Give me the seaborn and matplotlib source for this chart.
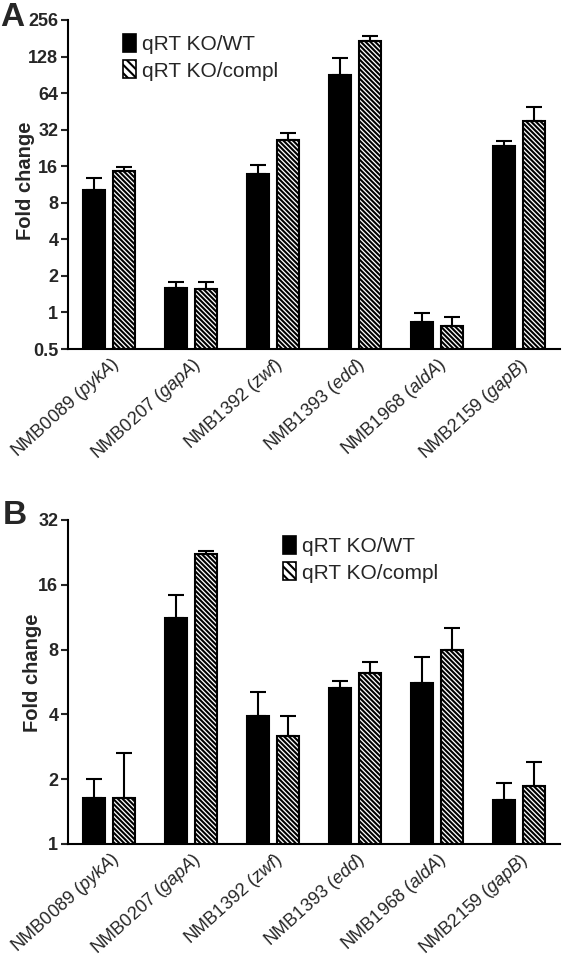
import numpy as np
import pandas as pd
import matplotlib
matplotlib.use("Agg")
import matplotlib.pyplot as plt
import matplotlib.patches as mpatches
import matplotlib.transforms as mtransforms
import seaborn as sns

# genes on the x axis
genes = ["NMB0089", "NMB0207", "NMB1392", "NMB1393", "NMB1968", "NMB2159"]
gene_names = ["pykA", "gapA", "zwf", "edd", "aldA", "gapB"]
series = ["qRT KO/WT", "qRT KO/compl"]

# panel A: fold change and upper end of error bar
a_wt = [10.1, 1.6, 13.9, 90, 0.84, 23.6]
a_wt_hi = [12.9, 1.78, 16.5, 125, 0.99, 26]
a_compl = [14.7, 1.55, 26.5, 173, 0.78, 38]
a_compl_hi = [15.9, 1.77, 30.2, 190, 0.92, 49.5]

# panel B
b_wt = [1.63, 11.2, 3.92, 5.28, 5.62, 1.6]
b_wt_hi = [2.0, 14.4, 5.1, 5.69, 7.4, 1.92]
b_compl = [1.63, 22.3, 3.16, 6.26, 8.0, 1.86]
b_compl_hi = [2.64, 23.0, 3.92, 6.97, 10.1, 2.4]

a_ticks = [0.5, 1, 2, 4, 8, 16, 32, 64, 128, 256]
b_ticks = [1, 2, 4, 8, 16, 32]

sns.set_style("ticks")
plt.rcParams["font.family"] = ["Liberation Sans", "DejaVu Sans"]
plt.rcParams["mathtext.fontset"] = "custom"
plt.rcParams["mathtext.rm"] = "Liberation Sans"
plt.rcParams["mathtext.it"] = "Liberation Sans:italic"
plt.rcParams["hatch.linewidth"] = 1.5
plt.rcParams["hatch.color"] = "black"

HATCH = "\\" * 7
labels = [f"{g} (" + r"$\mathit{" + n + "}$" + ")" for g, n in zip(genes, gene_names)]


def draw_panel(ax, wt, wt_hi, compl, compl_hi, ticks, ylim):
    df = pd.DataFrame({
        "gene": genes * 2,
        "series": [series[0]] * len(genes) + [series[1]] * len(genes),
        "fold": wt + compl,
    })
    ax.set_yscale("log", base=2)
    sns.barplot(data=df, x="gene", y="fold", hue="series", order=genes,
                hue_order=series, palette=["black", "white"], width=0.74,
                gap=0.28, edgecolor="black", linewidth=1.5, errorbar=None,
                legend=False, ax=ax)
    for cont, vals, his in zip(ax.containers, [wt, compl], [wt_hi, compl_hi]):
        xs = [p.get_x() + p.get_width() / 2 for p in cont]
        vals = np.array(vals)
        up = np.array(his) - vals
        ax.errorbar(xs, vals, yerr=[np.zeros_like(up), up], fmt="none",
                    ecolor="black", elinewidth=1.5, capsize=6, capthick=1.5,
                    zorder=1)
    for p in ax.containers[1]:
        p.set_facecolor("white")
        p.set_hatch(HATCH)
    ax.set_ylim(*ylim)
    ax.set_xlim(-0.5, 5.5)
    ax.set_yticks(ticks)
    ax.set_yticklabels([("%g" % t) for t in ticks], fontsize=13,
                       fontweight="bold")
    ax.yaxis.set_minor_locator(matplotlib.ticker.NullLocator())
    ax.set_xticks(range(len(genes)))
    ax.set_xticklabels(labels, rotation=42, ha="right", va="top",
                       rotation_mode="anchor", fontsize=13)
    offset = mtransforms.ScaledTranslation(19 / 100, 1 / 100, ax.figure.dpi_scale_trans)
    for lab in ax.get_xticklabels():
        lab.set_transform(lab.get_transform() + offset)
    ax.tick_params(axis="x", length=0, pad=4)
    ax.tick_params(axis="y", length=5, width=1.5, pad=2)
    ax.set_xlabel("")
    ax.set_ylabel("Fold change", fontsize=14.5, fontweight="bold")
    sns.despine(ax=ax)
    for s in ["left", "bottom"]:
        ax.spines[s].set_linewidth(1.5)
        ax.spines[s].set_color("black")


fig = plt.figure(figsize=(5.66, 9.58), dpi=100)
W, H = 566, 958
ax_a = fig.add_axes([68 / W, 1 - 349 / H, (560 - 68) / W, (349 - 20) / H])
ax_b = fig.add_axes([68 / W, 1 - 844 / H, (560 - 68) / W, (844 - 520) / H])

draw_panel(ax_a, a_wt, a_wt_hi, a_compl, a_compl_hi, a_ticks, (0.5, 256))
draw_panel(ax_b, b_wt, b_wt_hi, b_compl, b_compl_hi, b_ticks, (1, 32))
ax_a.yaxis.set_label_coords(-0.067, 0.51)
ax_b.yaxis.set_label_coords(-0.053, 0.53)

handles = [mpatches.Patch(facecolor="black", edgecolor="black", linewidth=1.2),
           mpatches.Patch(facecolor="white", edgecolor="black", linewidth=1.2,
                          hatch="\\" * 4)]
leg_kw = dict(frameon=False, fontsize=15, handlelength=0.62, handleheight=0.95,
              handletextpad=0.3, labelspacing=0.3, borderpad=0, borderaxespad=0,
              loc="upper left")
fig.legend(handles, series, bbox_to_anchor=(123 / W, 1 - 34 / H), **leg_kw)
fig.legend(handles, series, bbox_to_anchor=(283 / W, 1 - 536 / H), **leg_kw)

fig.text(0.0, 1 - 2 / H, "A", fontsize=24, fontweight="bold", va="top")
fig.text(3 / W, 1 - 500 / H, "B", fontsize=24, fontweight="bold", va="top")

plt.savefig("out.png", dpi=100)
